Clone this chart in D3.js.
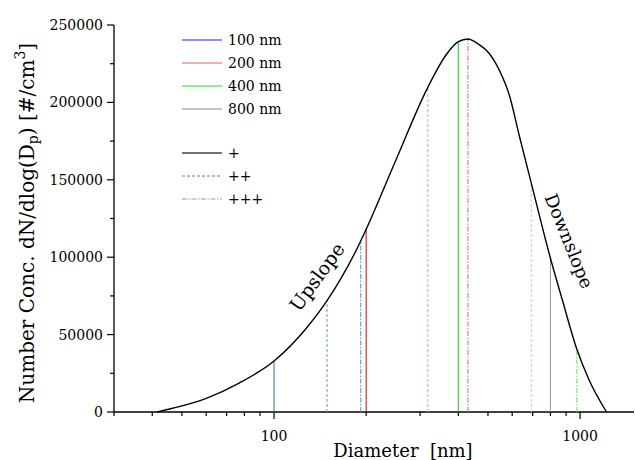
<!DOCTYPE html>
<html>
<head>
<meta charset="utf-8">
<script src="https://cdn.jsdelivr.net/npm/d3@7"></script>
<style>
  html, body { margin: 0; padding: 0; background: #fff; }
  svg { display: block; }
  text { font-family: "DejaVu Serif", serif; fill: #000; }
</style>
</head>
<body>
<svg id="chart" width="635" height="460"></svg>
<script>
// ---- data ----
const curveD = [41.6, 46.6, 59.8, 76.9, 100, 126.9, 149, 192, 200, 250, 318, 368, 400, 430, 461, 504, 557, 587, 632, 693, 800, 875, 976, 1070, 1220];
const curveN = [0, 2390, 8700, 18700, 32950, 53620, 71900, 110470, 118020, 162660, 209750, 231720, 239210, 240960, 238180, 231720, 216600, 204780, 178940, 147740, 99290, 72350, 40500, 20670, 0];

const markD      = [100, 149, 192, 200, 318, 430, 400, 693, 976, 800];
const markN      = [32950, 71900, 110470, 118020, 209750, 240960, 239210, 147740, 40500, 99290];
const markSize   = ["100 nm", "100 nm", "100 nm", "200 nm", "200 nm", "200 nm", "400 nm", "400 nm", "400 nm", "800 nm"];
const markCharge = ["+", "++", "+++", "+", "++", "+++", "+", "++", "+++", "+"];

const sizeLabels   = ["100 nm", "200 nm", "400 nm", "800 nm"];
const chargeLabels = ["+", "++", "+++"];

const yTicks      = [0, 50000, 100000, 150000, 200000, 250000];
const yMinorTicks = [25000, 75000, 125000, 175000, 225000];
const xTicks      = [100, 1000];
const xMinorTicks = [30, 40, 50, 60, 70, 80, 90, 200, 300, 400, 500, 600, 700, 800, 900];

// ---- styles ----
const legendColor = { "100 nm": "#1f1fe6", "200 nm": "#e06666", "400 nm": "#22e022", "800 nm": "#8a8a8a" };
const markColor = {
  "100 nm": { "+": "#3a7cc2", "++": "#74a6d6", "+++": "#5d95cc" },
  "200 nm": { "+": "#e41818", "++": "#f2a2a2", "+++": "#ee7272" },
  "400 nm": { "+": "#1fd81f", "++": "#a6f0a6", "+++": "#6ee06e" },
  "800 nm": { "+": "#a0a0a0", "++": "#c0c0c0", "+++": "#c0c0c0" }
};
const dashFor = { "+": null, "++": "3,2", "+++": "5,1.5,1.5,1.5" };
const legendStyleColor = { "+": "#444", "++": "#777", "+++": "#999" };

// ---- layout ----
const svg = d3.select("#chart");
svg.append("rect").attr("width", 635).attr("height", 460).attr("fill", "#fff");

const x = d3.scaleLog().domain([30, 1500]).range([114, 634]);
const y = d3.scaleLinear().domain([0, 250000]).range([412, 25]);

// axes
const gx = svg.append("g").attr("transform", `translate(0,${y(0)})`);
gx.append("line").attr("x1", x(30)).attr("x2", 634).attr("stroke", "#000").attr("stroke-width", 1.3);
gx.selectAll(".xmaj").data(xTicks).join("line")
  .attr("x1", d => x(d)).attr("x2", d => x(d)).attr("y1", 0).attr("y2", 7)
  .attr("stroke", "#000").attr("stroke-width", 1.2);
gx.selectAll(".xmin").data(xMinorTicks).join("line")
  .attr("x1", d => x(d)).attr("x2", d => x(d)).attr("y1", 0).attr("y2", 4)
  .attr("stroke", "#000").attr("stroke-width", 1.2);
gx.selectAll(".xlab").data(xTicks).join("text")
  .attr("x", d => x(d)).attr("y", 29).attr("text-anchor", "middle")
  .attr("font-size", 14).text(d => d3.format("d")(d));

const gy = svg.append("g").attr("transform", `translate(${x(30)},0)`);
gy.append("line").attr("y1", y(0)).attr("y2", y(250000)).attr("stroke", "#000").attr("stroke-width", 1.3);
gy.selectAll(".ymaj").data(yTicks).join("line")
  .attr("x1", 0).attr("x2", -7).attr("y1", d => y(d)).attr("y2", d => y(d))
  .attr("stroke", "#000").attr("stroke-width", 1.2);
gy.selectAll(".ymin").data(yMinorTicks).join("line")
  .attr("x1", 0).attr("x2", -4).attr("y1", d => y(d)).attr("y2", d => y(d))
  .attr("stroke", "#000").attr("stroke-width", 1.2);
gy.selectAll(".ylab").data(yTicks).join("text")
  .attr("x", -11).attr("y", d => y(d)).attr("dy", "0.36em").attr("text-anchor", "end")
  .attr("font-size", 14).text(d => d);

// axis titles
svg.append("text").attr("x", 403).attr("y", 457).attr("text-anchor", "middle")
  .attr("font-size", 18).attr("xml:space", "preserve").text("Diameter  [nm]");

const yt = svg.append("text").attr("transform", "translate(34,223) rotate(-90)")
  .attr("text-anchor", "middle").attr("font-size", 20);
yt.append("tspan").text("Number Conc. dN/dlog(D");
yt.append("tspan").attr("font-size", 14).attr("dy", 4).text("p");
yt.append("tspan").attr("dy", -4).text(") [#/cm");
yt.append("tspan").attr("font-size", 14).attr("dy", -9).text("3");
yt.append("tspan").attr("dy", 9).text("]");

// vertical marker lines
const marks = markD.map((d, i) => ({ d, n: markN[i], size: markSize[i], charge: markCharge[i] }));
svg.append("g").selectAll("line").data(marks).join("line")
  .attr("x1", m => x(m.d)).attr("x2", m => x(m.d))
  .attr("y1", y(0)).attr("y2", m => y(m.n))
  .attr("stroke", m => markColor[m.size][m.charge])
  .attr("stroke-width", 1.1)
  .attr("stroke-dasharray", m => dashFor[m.charge]);

// distribution curve
const pts = curveD.map((d, i) => [d, curveN[i]]);
svg.append("path").datum(pts)
  .attr("fill", "none").attr("stroke", "#000").attr("stroke-width", 1.4)
  .attr("d", d3.line().x(p => x(p[0])).y(p => y(p[1])).curve(d3.curveMonotoneX));

// annotations
svg.append("text").attr("transform", "translate(317,277) rotate(-54)")
  .attr("text-anchor", "middle").attr("dy", "0.35em").attr("font-size", 19).text("Upslope");
svg.append("text").attr("transform", "translate(569,241) rotate(68)")
  .attr("text-anchor", "middle").attr("dy", "0.35em").attr("font-size", 18).text("Downslope");

// legend
const lg = svg.append("g");
const rowY1 = [40, 63, 86, 109];
sizeLabels.forEach((s, i) => {
  lg.append("line").attr("x1", 182).attr("x2", 222).attr("y1", rowY1[i]).attr("y2", rowY1[i])
    .attr("stroke", legendColor[s]).attr("stroke-width", 1.2);
  lg.append("text").attr("x", 228).attr("y", rowY1[i]).attr("dy", "0.35em").attr("font-size", 14).text(s);
});
const rowY2 = [153, 176, 199];
chargeLabels.forEach((c, i) => {
  lg.append("line").attr("x1", 182).attr("x2", 222).attr("y1", rowY2[i]).attr("y2", rowY2[i])
    .attr("stroke", legendStyleColor[c]).attr("stroke-width", c === "+" ? 1.4 : 1)
    .attr("stroke-dasharray", dashFor[c]);
  lg.append("text").attr("x", 228).attr("y", rowY2[i]).attr("dy", "0.35em").attr("font-size", 14).text(c);
});
</script>
</body>
</html>
